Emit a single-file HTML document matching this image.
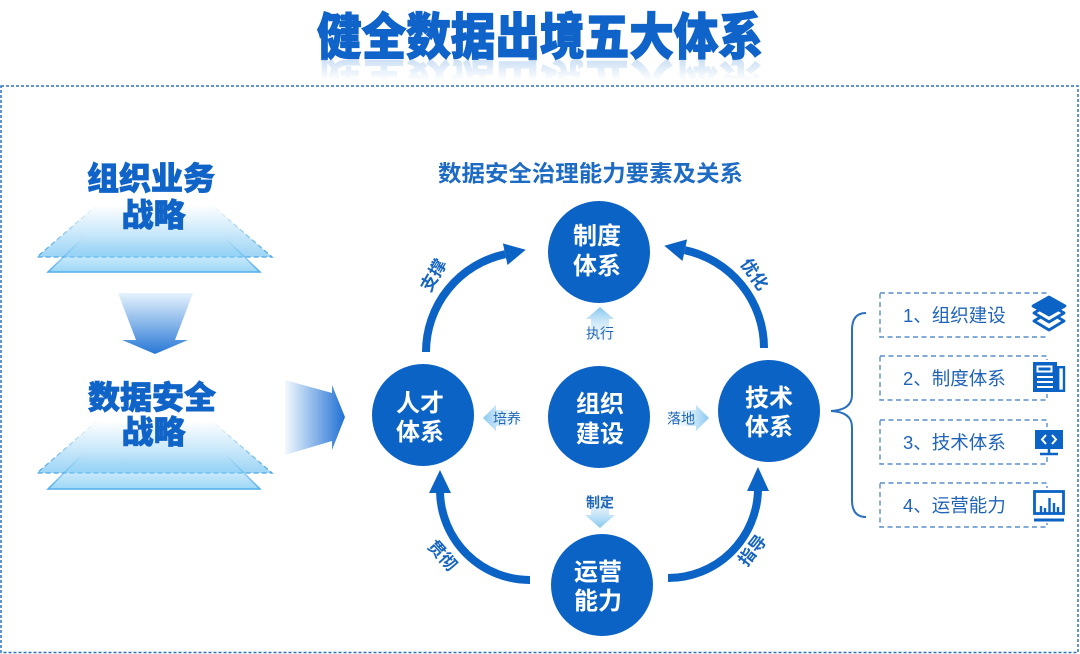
<!DOCTYPE html>
<html>
<head>
<meta charset="utf-8">
<style>
html,body{margin:0;padding:0;background:#fff;}
svg{display:block;}
text{font-family:"Liberation Sans","Noto Sans CJK SC",sans-serif;}
</style>
</head>
<body>
<svg width="1080" height="654" viewBox="0 0 1080 654" xmlns="http://www.w3.org/2000/svg">
<defs>
  <linearGradient id="refl" x1="0" y1="0" x2="0" y2="1">
    <stop offset="0" stop-color="#4a8fdc" stop-opacity="0"/>
    <stop offset="0.5" stop-color="#4a8fdc" stop-opacity="0"/>
    <stop offset="1" stop-color="#4a8fdc" stop-opacity="0.38"/>
  </linearGradient>
  <linearGradient id="outer1" gradientUnits="userSpaceOnUse" x1="0" y1="205" x2="0" y2="257">
    <stop offset="0" stop-color="#7cc6f2" stop-opacity="0"/>
    <stop offset="1" stop-color="#7cc6f2" stop-opacity="0.75"/>
  </linearGradient>
  <linearGradient id="outer1s" gradientUnits="userSpaceOnUse" x1="0" y1="205" x2="0" y2="257">
    <stop offset="0" stop-color="#4aa6e6" stop-opacity="0"/>
    <stop offset="1" stop-color="#4aa6e6" stop-opacity="1"/>
  </linearGradient>
  <linearGradient id="inner1" gradientUnits="userSpaceOnUse" x1="0" y1="238" x2="0" y2="272">
    <stop offset="0" stop-color="#8ad0f5" stop-opacity="0"/>
    <stop offset="1" stop-color="#8ad0f5" stop-opacity="0.85"/>
  </linearGradient>
  <linearGradient id="inner1s" gradientUnits="userSpaceOnUse" x1="0" y1="238" x2="0" y2="272">
    <stop offset="0" stop-color="#52aeea" stop-opacity="0"/>
    <stop offset="1" stop-color="#52aeea" stop-opacity="1"/>
  </linearGradient>
  <linearGradient id="outer2" gradientUnits="userSpaceOnUse" x1="0" y1="421" x2="0" y2="473">
    <stop offset="0" stop-color="#7cc6f2" stop-opacity="0"/>
    <stop offset="1" stop-color="#7cc6f2" stop-opacity="0.75"/>
  </linearGradient>
  <linearGradient id="outer2s" gradientUnits="userSpaceOnUse" x1="0" y1="421" x2="0" y2="473">
    <stop offset="0" stop-color="#4aa6e6" stop-opacity="0"/>
    <stop offset="1" stop-color="#4aa6e6" stop-opacity="1"/>
  </linearGradient>
  <linearGradient id="inner2" gradientUnits="userSpaceOnUse" x1="0" y1="454" x2="0" y2="489">
    <stop offset="0" stop-color="#8ad0f5" stop-opacity="0"/>
    <stop offset="1" stop-color="#8ad0f5" stop-opacity="0.85"/>
  </linearGradient>
  <linearGradient id="inner2s" gradientUnits="userSpaceOnUse" x1="0" y1="454" x2="0" y2="489">
    <stop offset="0" stop-color="#52aeea" stop-opacity="0"/>
    <stop offset="1" stop-color="#52aeea" stop-opacity="1"/>
  </linearGradient>
  <linearGradient id="downArr" gradientUnits="userSpaceOnUse" x1="0" y1="293" x2="0" y2="354">
    <stop offset="0" stop-color="#e6f3fd"/>
    <stop offset="1" stop-color="#2878d6"/>
  </linearGradient>
  <linearGradient id="rightArr" gradientUnits="userSpaceOnUse" x1="285" y1="0" x2="346" y2="0">
    <stop offset="0" stop-color="#f3f9fe"/>
    <stop offset="1" stop-color="#1c6ed3"/>
  </linearGradient>
  <linearGradient id="gUp" gradientUnits="userSpaceOnUse" x1="0" y1="307" x2="0" y2="350">
    <stop offset="0" stop-color="#86c7f0"/>
    <stop offset="1" stop-color="#ffffff" stop-opacity="0"/>
  </linearGradient>
  <linearGradient id="gDown" gradientUnits="userSpaceOnUse" x1="0" y1="486" x2="0" y2="528">
    <stop offset="0" stop-color="#ffffff" stop-opacity="0"/>
    <stop offset="1" stop-color="#86c7f0"/>
  </linearGradient>
  <linearGradient id="gLeft" gradientUnits="userSpaceOnUse" x1="483" y1="0" x2="527" y2="0">
    <stop offset="0" stop-color="#86c7f0"/>
    <stop offset="1" stop-color="#ffffff" stop-opacity="0"/>
  </linearGradient>
  <linearGradient id="gRight" gradientUnits="userSpaceOnUse" x1="664" y1="0" x2="709" y2="0">
    <stop offset="0" stop-color="#ffffff" stop-opacity="0"/>
    <stop offset="1" stop-color="#86c7f0"/>
  </linearGradient>
</defs>

<!-- Title -->
<text x="317" y="54.5" font-size="50" font-weight="900" fill="#0f63c9" stroke="#0f63c9" stroke-width="1.2" textLength="446" lengthAdjust="spacingAndGlyphs">健全数据出境五大体系</text>
<g transform="translate(0,118) scale(1,-1)">
  <text x="317" y="54.5" font-size="50" font-weight="900" fill="url(#refl)" textLength="446" lengthAdjust="spacingAndGlyphs">健全数据出境五大体系</text>
</g>

<!-- Outer dashed border -->
<rect x="1" y="86" width="1077" height="566.5" fill="none" stroke="#2f72ba" stroke-width="1.5" stroke-dasharray="3 2"/>

<!-- Left: trapezoids 1 -->
<polygon points="37,257 272,257 212,205 97,205" fill="url(#outer1)"/>
<polyline points="97,205 37,257 272,257 212,205" fill="none" stroke="url(#outer1s)" stroke-width="1.3" stroke-dasharray="5 3"/>
<polygon points="48,272 260,272 225,238 83,238" fill="url(#inner1)"/>
<polyline points="83,238 48,272 260,272 225,238" fill="none" stroke="url(#inner1s)" stroke-width="1.5"/>

<text x="151" y="189.5" font-size="32" font-weight="900" fill="#1064c8" stroke="#1064c8" stroke-width="0.8" text-anchor="middle">组织业务</text>
<text x="153.5" y="226" font-size="32" font-weight="900" fill="#1064c8" stroke="#1064c8" stroke-width="0.8" text-anchor="middle">战略</text>

<!-- down arrow -->
<polygon points="118,293 193,293 175,340 188,340 155,354 122,340 136,340" fill="url(#downArr)"/>

<!-- Left: trapezoids 2 -->
<polygon points="37,473 272,473 212,421 97,421" fill="url(#outer2)"/>
<polyline points="97,421 37,473 272,473 212,421" fill="none" stroke="url(#outer2s)" stroke-width="1.3" stroke-dasharray="5 3"/>
<polygon points="48,489 260,489 225,454 83,454" fill="url(#inner2)"/>
<polyline points="83,454 48,489 260,489 225,454" fill="none" stroke="url(#inner2s)" stroke-width="1.5"/>

<text x="152" y="408.5" font-size="32" font-weight="900" fill="#1064c8" stroke="#1064c8" stroke-width="0.8" text-anchor="middle">数据安全</text>
<text x="153.5" y="443" font-size="32" font-weight="900" fill="#1064c8" stroke="#1064c8" stroke-width="0.8" text-anchor="middle">战略</text>

<!-- right arrow -->
<polygon points="285,380 332,393 332,385 345,417 332,450 332,441 285,455" fill="url(#rightArr)"/>

<!-- Subtitle -->
<text x="438" y="181.5" font-size="22.5" font-weight="700" fill="#1e6bc4" textLength="305" lengthAdjust="spacingAndGlyphs">数据安全治理能力要素及关系</text>

<!-- Arcs -->
<g fill="none" stroke="#0b63c5" stroke-width="8">
  <path d="M426,352 A100,100 0 0 1 505.2,254.2"/>
  <path d="M764,348 A100,100 0 0 0 684.8,250.2"/>
  <path d="M530,580 A90,90 0 0 1 440,492"/>
  <path d="M668,578 A90,90 0 0 0 758,490"/>
</g>
<g fill="#0b63c5">
  <polygon points="502.9,243.4 525.7,249.8 507.5,265"/>
  <polygon points="687.1,239.4 664.3,245.8 682.5,261"/>
  <polygon points="429,493 451,493 440,470"/>
  <polygon points="747,491 769,491 758,467"/>
</g>

<!-- Arc labels -->
<g font-size="17" font-weight="700" fill="#1565c0" text-anchor="middle">
  <text transform="translate(433,275) rotate(-60)" y="6.5">支撑</text>
  <text transform="translate(755,274) rotate(55)" y="6.5">优化</text>
  <text transform="translate(443,555) rotate(48)" y="6.5">贯彻</text>
  <text transform="translate(752,550) rotate(-52)" y="6.5">指导</text>
</g>

<!-- Small gradient arrows -->
<polygon points="600,307 614,319 609,319 609,350 591,350 591,319 586,319" fill="url(#gUp)"/>
<polygon points="591,486 609,486 609,515 615,515 600,528 585,515 591,515" fill="url(#gDown)"/>
<polygon points="483,418 496,405 496,410 527,410 527,426 496,426 496,431" fill="url(#gLeft)"/>
<polygon points="709,418 696,405 696,410 664,410 664,426 696,426 696,431" fill="url(#gRight)"/>
<g font-size="14" fill="#2367b8" text-anchor="middle">
  <text x="600" y="338.5">执行</text>
  <text x="600" y="507.5" font-weight="700">制定</text>
  <text x="507" y="423.5">培养</text>
  <text x="681" y="423.5">落地</text>
</g>

<!-- Circles -->
<g fill="#0b63c5">
  <circle cx="599" cy="252" r="51"/>
  <circle cx="423" cy="415" r="51"/>
  <circle cx="599" cy="417" r="51"/>
  <circle cx="769" cy="411" r="51"/>
  <circle cx="602" cy="585" r="51"/>
</g>
<g font-size="24" font-weight="700" fill="#ffffff" text-anchor="middle">
  <text x="597" y="244">制度</text>
  <text x="597" y="274">体系</text>
  <text x="420" y="411">人才</text>
  <text x="420" y="440">体系</text>
  <text x="600" y="412">组织</text>
  <text x="600" y="442">建设</text>
  <text x="769" y="406">技术</text>
  <text x="769" y="435">体系</text>
  <text x="598" y="580">运营</text>
  <text x="598" y="609">能力</text>
</g>

<!-- Brace -->
<path d="M866,313 Q852,313 852,330 L852,395 Q852,410 831,411 Q852,412 852,427 L852,500 Q852,517 866,517" fill="none" stroke="#2a6fc0" stroke-width="2"/>

<!-- Right dashed boxes -->
<g fill="none" stroke="#5a8dcb" stroke-width="1.4" stroke-dasharray="5 3.5">
  <rect x="880" y="293" width="167" height="44"/>
  <rect x="880" y="356" width="167" height="44"/>
  <rect x="880" y="420" width="167" height="44"/>
  <rect x="880" y="483" width="167" height="44"/>
</g>
<g font-size="18.5" fill="#1f64b9">
  <text x="903" y="322">1、组织建设</text>
  <text x="903" y="385">2、制度体系</text>
  <text x="903" y="449">3、技术体系</text>
  <text x="903" y="512">4、运营能力</text>
</g>

<!-- Icons -->
<!-- layers -->
<g stroke="#0b63c5" stroke-width="2.8" stroke-linejoin="round">
  <rect x="1030" y="295" width="38" height="40" fill="#fff" stroke="none"/>
  <polygon points="1049,312 1064,321 1049,330 1034,321" fill="#fff"/>
  <polygon points="1049,304 1064,313 1049,322 1034,313" fill="#fff"/>
  <polygon points="1049,297 1065,306 1049,315 1033,306" fill="#0b63c5"/>
</g>
<!-- document -->
<rect x="1031" y="360" width="36" height="34" fill="#fff"/>
<rect x="1033" y="362" width="24" height="30" fill="#0b63c5"/>
<rect x="1058.2" y="367.2" width="5.8" height="23.6" fill="#fff" stroke="#0b63c5" stroke-width="2.4"/>
<g stroke="#fff" stroke-width="2" fill="none">
  <rect x="1037.5" y="366.5" width="14" height="5"/>
  <line x1="1037" y1="377" x2="1053" y2="377"/>
  <line x1="1037" y1="382" x2="1053" y2="382"/>
  <line x1="1037" y1="387" x2="1053" y2="387"/>
</g>
<!-- monitor -->
<rect x="1032" y="427" width="34" height="30" fill="#fff"/>
<rect x="1035" y="430" width="28" height="19" fill="#0b63c5"/>
<g stroke="#fff" stroke-width="2" fill="none">
  <polyline points="1046,435 1042,439.5 1046,444"/>
  <polyline points="1052,435 1056,439.5 1052,444"/>
</g>
<g stroke="#0b63c5" stroke-width="2.5">
  <line x1="1049" y1="449" x2="1049" y2="454"/>
  <line x1="1040" y1="454" x2="1058" y2="454"/>
</g>
<!-- chart -->
<rect x="1031" y="488" width="36" height="35" fill="#fff"/>
<rect x="1034.5" y="491.5" width="29" height="22" fill="#fff" stroke="#0b63c5" stroke-width="2.8"/>
<g stroke="#0b63c5" stroke-width="2.4">
  <line x1="1041" y1="513" x2="1041" y2="506"/>
  <line x1="1045" y1="513" x2="1045" y2="508"/>
  <line x1="1049.5" y1="513" x2="1049.5" y2="498"/>
  <line x1="1054" y1="513" x2="1054" y2="503"/>
  <line x1="1058" y1="513" x2="1058" y2="507"/>
</g>
<line x1="1034" y1="520" x2="1064" y2="520" stroke="#0b63c5" stroke-width="3"/>
</svg>
</body>
</html>
